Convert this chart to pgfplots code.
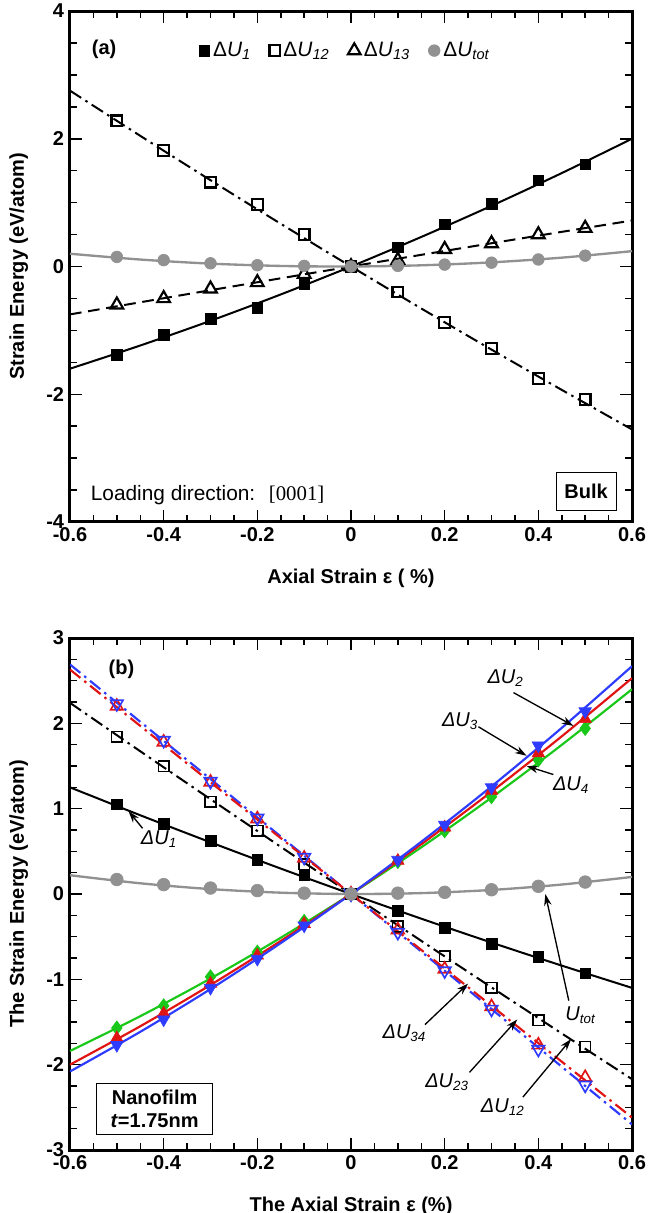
\documentclass[border=0pt]{standalone}
\usepackage{fontspec}
\setmainfont{Liberation Sans}
\newfontfamily\timesfont{Liberation Serif}
\usepackage{pgfplots}
\pgfplotsset{compat=1.18}
\usetikzlibrary{arrows.meta}
\definecolor{myred}{RGB}{225,20,20}
\definecolor{myblue}{RGB}{45,60,255}
\definecolor{mygreen}{RGB}{25,200,25}
\definecolor{mygray}{RGB}{145,145,145}
\newcommand{\fs}{\fontsize{12}{14}\selectfont}
\begin{document}
\begin{tikzpicture}
\pgfplotsset{
  common/.style={
    scale only axis, width=337.2pt,
    xmin=-0.6, xmax=0.6, xtick={-0.6,-0.4,-0.2,0,0.2,0.4,0.6}, minor x tick num=3,
    xtick pos=both, ytick pos=both, tick align=inside,
    major tick length=7pt, minor tick length=4pt,
    every tick/.style={black, line width=0.9pt},
    axis line style={line width=1.8pt},
    ticklabel style={font=\bfseries\fs},
    /pgf/number format/assume math mode=true,
    label style={font=\bfseries\fs},
    xlabel style={at={(axis description cs:0.5,-0.11)}, anchor=center},
    ylabel style={at={(axis description cs:-0.091,0.5)}, anchor=center},
    clip=true,
  },
  dd/.style={dash pattern=on 8pt off 3pt on 1.5pt off 3pt},
}
% ---------------- (a) ----------------
\begin{axis}[common, at={(0,0)}, anchor=south west, height=306.6pt,
  ymin=-4, ymax=4, ytick={-4,-2,0,2,4}, minor y tick num=3,
  xlabel={Axial Strain ε ( \%)}, ylabel={Strain Energy (eV/atom)},
  legend style={draw=none, fill=none, at={(axis cs:-0.325,3.38)}, anchor=west,
    font=\fontsize{12.5}{14}\selectfont, inner sep=0pt, /tikz/every even column/.append style={column sep=9pt}},
  legend columns=4, legend cell align=left]
\addplot[black, line width=1.2pt, smooth, forget plot] coordinates {(-0.6,-1.6) (-0.45,-1.237) (-0.3,-0.85) (-0.15,-0.4375) (0,0) (0.15,0.4625) (0.3,0.95) (0.45,1.4626) (0.6,2.0)};
\addplot[black, line width=1.2pt, dd, smooth, forget plot] coordinates {(-0.6,2.753) (-0.45,2.046) (-0.3,1.351) (-0.15,0.669) (0,0) (0.15,-0.657) (0.3,-1.301) (0.45,-1.932) (0.6,-2.551)};
\addplot[black, line width=1.2pt, dash pattern=on 7pt off 4pt, smooth, forget plot] coordinates {(-0.6,-0.75) (-0.3,-0.371) (0,0) (0.3,0.364) (0.6,0.72)};
\addplot[mygray, line width=1.4pt, smooth, forget plot] coordinates {(-0.6,0.2) (-0.45,0.109) (-0.3,0.045) (-0.15,0.0088) (0,0) (0.15,0.0187) (0.3,0.065) (0.45,0.1386) (0.6,0.24)};
\addplot[only marks, mark=square*, mark size=3.2pt, black] coordinates {(-0.5,-1.38) (-0.4,-1.07) (-0.3,-0.82) (-0.2,-0.65) (-0.1,-0.28) (0,0) (0.1,0.3) (0.2,0.66) (0.3,0.98) (0.4,1.35) (0.5,1.6)};
\addlegendentry{Δ\textit{U}\textsubscript{\textit{1}}}
\addplot[only marks, mark=square, mark size=3.2pt, black, mark options={line width=1.3pt}] coordinates {(-0.5,2.28) (-0.4,1.82) (-0.3,1.32) (-0.2,0.97) (-0.1,0.5) (0,0) (0.1,-0.4) (0.2,-0.88) (0.3,-1.28) (0.4,-1.75) (0.5,-2.08)};
\addlegendentry{Δ\textit{U}\textsubscript{\textit{12}}}
\addplot[only marks, mark=triangle, mark size=4.4pt, black, mark options={line width=1.3pt}] coordinates {(-0.5,-0.6) (-0.4,-0.5) (-0.3,-0.35) (-0.2,-0.25) (-0.1,-0.12) (0,0) (0.1,0.1) (0.2,0.27) (0.3,0.36) (0.4,0.5) (0.5,0.6)};
\addlegendentry{Δ\textit{U}\textsubscript{\textit{13}}}
\addplot[only marks, mark=*, mark size=3.5pt, mygray] coordinates {(-0.5,0.15) (-0.4,0.1) (-0.3,0.05) (-0.2,0.02) (-0.1,0.01) (0,0) (0.1,0.01) (0.2,0.03) (0.3,0.06) (0.4,0.11) (0.5,0.17)};
\addlegendentry{Δ\textit{U}\textsubscript{\textit{tot}}}
\node[font=\bfseries\fs] at (axis cs:-0.527,3.4) {(a)};
\node[font=\fontsize{12.5}{14}\selectfont, anchor=west] at (axis cs:-0.568,-3.58) {Loading direction: \ {\timesfont[0001]}};
\node[font=\bfseries\fs, draw=black, line width=0.6pt, inner xsep=5pt, minimum height=23pt] at (axis cs:0.502,-3.52) {Bulk};
\end{axis}
% ---------------- (b) ----------------
\begin{axis}[common, at={(0,-376.8pt)}, anchor=south west, height=307.2pt,
  ymin=-3, ymax=3, ytick={-3,-2,-1,0,1,2,3}, minor y tick num=3,
  xlabel={The Axial Strain ε (\%)}, ylabel={The Strain Energy (eV/atom)}]
% lines
\addplot[black, line width=1.2pt, smooth] coordinates {(-0.6,1.25) (-0.45,0.923) (-0.3,0.606) (-0.15,0.298) (0,0) (0.15,-0.289) (0.3,-0.569) (0.45,-0.839) (0.6,-1.1)};
\addplot[black, line width=1.2pt, dd, smooth] coordinates {(-0.6,2.24) (-0.45,1.673) (-0.3,1.111) (-0.15,0.553) (0,0) (0.15,-0.549) (0.3,-1.094) (0.45,-1.634) (0.6,-2.17)};
\addplot[myblue, line width=1.3pt, dd] coordinates {(-0.6,2.69) (-0.3,1.347) (0,0) (0.3,-1.348) (0.6,-2.70)};
\addplot[myred, line width=1.3pt, dd] coordinates {(-0.6,2.63) (-0.3,1.31) (0,0) (0.3,-1.31) (0.6,-2.62)};
\addplot[mygreen, line width=1.3pt, smooth] coordinates {(-0.6,-1.84) (-0.45,-1.432) (-0.3,-0.99) (-0.15,-0.5125) (0,0) (0.15,0.547) (0.3,1.13) (0.45,1.748) (0.6,2.40)};
\addplot[myred, line width=1.3pt, smooth] coordinates {(-0.6,-2.0) (-0.45,-1.550) (-0.3,-1.066) (-0.15,-0.550) (0,0) (0.15,0.583) (0.3,1.199) (0.45,1.848) (0.6,2.53)};
\addplot[myblue, line width=1.3pt, smooth] coordinates {(-0.6,-2.08) (-0.45,-1.615) (-0.3,-1.114) (-0.15,-0.575) (0,0) (0.15,0.612) (0.3,1.261) (0.45,1.947) (0.6,2.67)};
\addplot[mygray, line width=1.4pt, smooth] coordinates {(-0.6,0.22) (-0.45,0.1256) (-0.3,0.0575) (-0.15,0.0156) (0,0) (0.15,0.0106) (0.3,0.0475) (0.45,0.111) (0.6,0.20)};
% marks
\addplot[only marks, mark=square*, mark size=3.2pt, black] coordinates {(-0.5,1.05) (-0.4,0.82) (-0.3,0.62) (-0.2,0.40) (-0.1,0.22) (0,0) (0.1,-0.20) (0.2,-0.40) (0.3,-0.58) (0.4,-0.74) (0.5,-0.93)};
\addplot[only marks, mark=square, mark size=3.2pt, black, mark options={line width=1.0pt}] coordinates {(-0.5,1.84) (-0.4,1.50) (-0.3,1.08) (-0.2,0.74) (-0.1,0.35) (0,0) (0.1,-0.38) (0.2,-0.73) (0.3,-1.10) (0.4,-1.48) (0.5,-1.79)};
\addplot[only marks, mark=triangle, mark size=4.3pt, myred, mark options={line width=1.0pt}] coordinates {(-0.5,2.20) (-0.4,1.78) (-0.3,1.31) (-0.2,0.88) (-0.1,0.42) (0,0) (0.1,-0.42) (0.2,-0.88) (0.3,-1.32) (0.4,-1.77) (0.5,-2.15)};
\addplot[only marks, mark=triangle, mark size=4.3pt, myblue, mark options={line width=1.0pt, rotate=180}] coordinates {(-0.5,2.23) (-0.4,1.80) (-0.3,1.32) (-0.2,0.89) (-0.1,0.43) (0,0) (0.1,-0.45) (0.2,-0.90) (0.3,-1.35) (0.4,-1.82) (0.5,-2.24)};
\addplot[only marks, mark=diamond*, mark size=4.2pt, mygreen] coordinates {(-0.5,-1.57) (-0.4,-1.31) (-0.3,-0.97) (-0.2,-0.68) (-0.1,-0.32) (0,0) (0.1,0.38) (0.2,0.74) (0.3,1.14) (0.4,1.57) (0.5,1.94)};
\addplot[only marks, mark=triangle*, mark size=4.3pt, myred] coordinates {(-0.5,-1.69) (-0.4,-1.40) (-0.3,-1.05) (-0.2,-0.72) (-0.1,-0.35) (0,0) (0.1,0.39) (0.2,0.78) (0.3,1.21) (0.4,1.65) (0.5,2.05)};
\addplot[only marks, mark=triangle*, mark size=4.3pt, myblue, mark options={rotate=180}] coordinates {(-0.5,-1.77) (-0.4,-1.47) (-0.3,-1.10) (-0.2,-0.76) (-0.1,-0.37) (0,0) (0.1,0.40) (0.2,0.81) (0.3,1.25) (0.4,1.74) (0.5,2.14)};
\addplot[only marks, mark=*, mark size=3.8pt, mygray] coordinates {(-0.5,0.17) (-0.4,0.11) (-0.3,0.07) (-0.2,0.04) (-0.1,0.01) (0,0) (0.1,0.01) (0.2,0.02) (0.3,0.05) (0.4,0.09) (0.5,0.14)};
% annotations
\node[font=\bfseries\fs] at (axis cs:-0.49,2.63) {(b)};
\tikzset{ann/.style={-{Stealth[length=7pt,width=4.5pt]}, line width=0.8pt, black}}
\node[font=\itshape\fs] at (axis cs:0.33,2.53) {ΔU\textsubscript{2}};
\draw[ann] (axis cs:0.347,2.36) -- (axis cs:0.475,1.97);
\node[font=\itshape\fs] at (axis cs:0.233,2.02) {ΔU\textsubscript{3}};
\draw[ann] (axis cs:0.272,1.96) -- (axis cs:0.375,1.62);
\node[font=\itshape\fs] at (axis cs:0.47,1.28) {ΔU\textsubscript{4}};
\draw[ann] (axis cs:0.432,1.4) -- (axis cs:0.375,1.5);
\node[font=\itshape\fs] at (axis cs:-0.41,0.64) {ΔU\textsubscript{1}};
\draw[ann] (axis cs:-0.445,0.77) -- (axis cs:-0.475,0.97);
\node[font=\itshape\fs] at (axis cs:0.49,-1.42) {U\textsubscript{tot}};
\draw[ann] (axis cs:0.465,-1.25) -- (axis cs:0.415,0.0);
\node[font=\itshape\fs] at (axis cs:0.114,-1.63) {ΔU\textsubscript{34}};
\draw[ann] (axis cs:0.158,-1.53) -- (axis cs:0.25,-1.05);
\node[font=\itshape\fs] at (axis cs:0.205,-2.21) {ΔU\textsubscript{23}};
\draw[ann] (axis cs:0.253,-2.09) -- (axis cs:0.355,-1.47);
\node[font=\itshape\fs] at (axis cs:0.324,-2.50) {ΔU\textsubscript{12}};
\draw[ann] (axis cs:0.367,-2.38) -- (axis cs:0.47,-1.70);
\node[draw=black, line width=0.6pt, font=\bfseries\fs, align=center, inner sep=4pt, anchor=north west, minimum width=70pt] at (axis cs:-0.545,-2.21) {Nanofilm\\\textit{t}=1.75nm};
\end{axis}
\pgfresetboundingbox
\path[use as bounding box] (-42pt,-414.6pt) rectangle (346.2pt,313.2pt);
\end{tikzpicture}
\end{document}
